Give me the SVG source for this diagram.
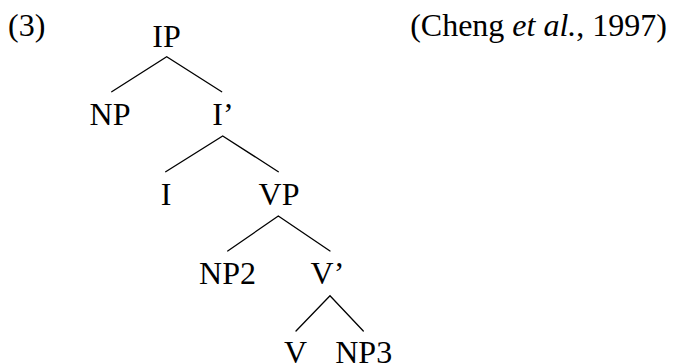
<svg xmlns="http://www.w3.org/2000/svg" width="678" height="364" viewBox="0 0 678 364">
<style>
text{font-family:"Liberation Serif","Times New Roman",serif;font-size:32px;fill:#000}
.n{text-anchor:middle}
.e{stroke:#000;stroke-width:1.3;fill:none;stroke-linecap:round}
</style>
<rect width="678" height="364" fill="#fff"/>
<text x="8" y="36">(3)</text>
<text x="667" y="36" text-anchor="end">(Cheng <tspan font-style="italic">et al.</tspan>, 1997)</text>
<g id="edges">
<path class="e" d="M111.7 91.7L166.7 56.7L221.7 91.7"/>
<path class="e" d="M165.7 171.7L222.7 136L278.3 171.7"/>
<path class="e" d="M227.7 251L278.3 216L330 251"/>
<path class="e" d="M296 331L330 295.7L363.3 331"/>
</g>
<g id="IP"><text class="n" x="166.5" y="47">IP</text></g>
<g id="NP"><text class="n" x="110" y="125">NP</text></g>
<g id="Ibar"><text class="n" x="223" y="125">I’</text></g>
<g id="I"><text class="n" x="166" y="205">I</text></g>
<g id="VP"><text class="n" x="279" y="205">VP</text></g>
<g id="NP2"><text class="n" x="227.5" y="284">NP2</text></g>
<g id="Vbar"><text class="n" x="327.5" y="284">V’</text></g>
<g id="V"><text class="n" x="295.5" y="363">V</text></g>
<g id="NP3"><text class="n" x="363.7" y="363">NP3</text></g>
</svg>
